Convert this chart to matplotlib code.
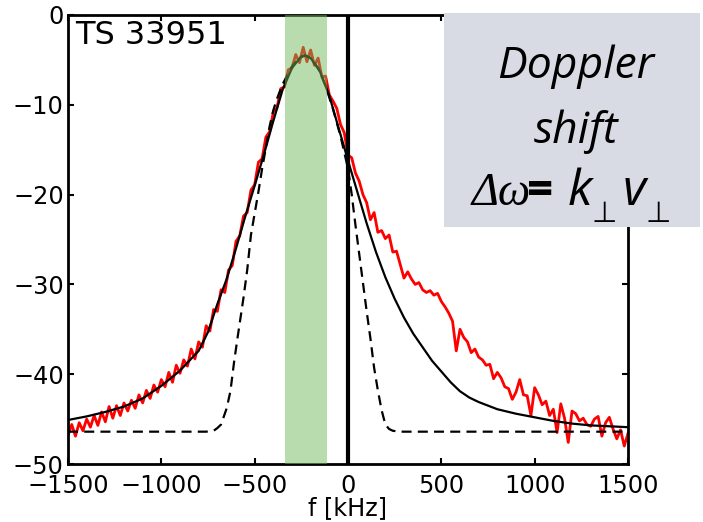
import matplotlib
matplotlib.use("Agg")
import matplotlib.pyplot as plt
from matplotlib.patches import Rectangle
from matplotlib.text import Annotation

freq_red = [-1500, -1480, -1460, -1440, -1420, -1400, -1380, -1360, -1340, -1320,
            -1300, -1280, -1260, -1240, -1220, -1200, -1180, -1160, -1140, -1120,
            -1100, -1080, -1060, -1040, -1020, -1000, -980, -960, -940, -920,
            -900, -880, -860, -840, -820, -800, -780, -760, -740, -720,
            -700, -680, -660, -640, -620, -600, -580, -560, -540, -520,
            -500, -480, -460, -440, -420, -400, -380, -360, -340, -320,
            -300, -280, -260, -240, -220, -200, -180, -160, -140, -120,
            -100, -80, -60, -40, -20, 0, 20, 40, 60, 80,
            100, 120, 140, 160, 180, 200, 220, 240, 260, 280,
            300, 320, 340, 360, 380, 400, 420, 440, 460, 480,
            500, 520, 540, 560, 580, 600, 620, 640, 660, 680,
            700, 720, 740, 760, 780, 800, 820, 840, 860, 880,
            900, 920, 940, 960, 980, 1000, 1020, 1040, 1060, 1080,
            1100, 1120, 1140, 1160, 1180, 1200, 1220, 1240, 1260, 1280,
            1300, 1320, 1340, 1360, 1380, 1400, 1420, 1440, 1460, 1480,
            1500]
spec_red = [-46.8, -45.6, -46.9, -45.4, -46.3, -45.0, -45.9, -44.6, -45.7, -44.2,
            -45.3, -43.6, -44.9, -43.5, -44.6, -43.2, -44.1, -42.9, -43.8, -42.3,
            -43.2, -41.8, -42.7, -41.2, -42.0, -40.6, -41.4, -39.8, -40.9, -39.0,
            -39.9, -38.4, -39.1, -37.2, -38.3, -36.4, -37.0, -34.6, -35.2, -32.8,
            -33.0, -30.6, -30.9, -28.4, -27.9, -25.2, -24.6, -22.4, -22.0, -19.5,
            -18.9, -16.4, -16.0, -13.6, -13.0, -10.8, -10.3, -8.2, -8.0, -6.1,
            -5.9, -4.4, -5.3, -3.6, -5.2, -3.9, -5.6, -4.8, -6.9, -6.8,
            -8.9, -9.6, -10.4, -12.2, -13.1, -15.6, -15.9, -17.6, -18.5, -20.0,
            -20.9, -22.8, -22.0, -24.2, -24.0, -24.9, -24.5, -26.4, -26.3, -27.8,
            -29.3, -28.6, -29.4, -30.0, -29.8, -30.6, -30.9, -30.7, -31.2, -31.0,
            -31.9, -32.5, -33.2, -34.1, -37.4, -35.0, -35.9, -36.4, -37.6, -37.2,
            -38.1, -38.4, -39.0, -38.9, -40.5, -39.8, -40.4, -41.4, -41.6, -42.8,
            -42.0, -40.6, -42.3, -42.4, -44.6, -41.5, -42.3, -43.4, -43.0, -44.6,
            -43.9, -46.5, -43.3, -44.9, -47.6, -44.1, -44.4, -45.2, -44.9, -45.6,
            -45.8, -45.0, -44.7, -46.9, -45.4, -44.8, -46.1, -47.2, -46.2, -48.0,
            -46.6]

# fitted spectrum (solid black)
freq_fit = [-1500, -1400, -1300, -1200, -1100, -1000, -900, -800, -750, -700,
            -650, -600, -550, -500, -450, -400, -350, -300, -250, -230,
            -200, -150, -100, -50, 0, 50, 100, 150, 200, 250,
            300, 350, 400, 450, 500, 550, 600, 650, 700, 750,
            800, 900, 1000, 1100, 1200, 1300, 1400, 1500]
spec_fit = [-45.1, -44.7, -44.2, -43.6, -42.7, -41.3, -39.6, -37.4, -35.3, -32.2,
            -29.4, -26.0, -22.4, -19.0, -15.5, -11.8, -8.3, -5.9, -4.6, -4.5,
            -4.8, -6.3, -9.0, -12.6, -16.2, -19.7, -23.2, -26.4, -29.2, -31.6,
            -33.7, -35.5, -37.0, -38.5, -39.7, -40.9, -41.9, -42.6, -43.1, -43.5,
            -43.9, -44.4, -44.8, -45.2, -45.5, -45.7, -45.8, -45.9]

# gaussian part of the fit (dashed)
freq_gauss = [-1500, -760, -720, -700, -680, -670, -650, -630, -610, -590,
              -560, -540, -520, -500, -480, -460, -440, -420, -400, -380,
              -350, -300, -260, -230, -200, -160, -120, -80, -40, 0,
              20, 40, 60, 80, 100, 120, 140, 160, 180, 200,
              220, 240, 280, 1500]
spec_gauss = [-46.4, -46.4, -46.3, -46.0, -45.6, -45.0, -43.8, -41.9, -38.6, -35.7,
              -31.5, -28.4, -24.5, -22.1, -19.7, -17.1, -14.8, -12.4, -10.6, -9.3,
              -7.7, -5.7, -4.8, -4.5, -4.8, -5.9, -7.9, -10.5, -13.5, -17.1,
              -20.0, -23.4, -26.6, -29.8, -33.0, -36.0, -39.3, -41.8, -44.0, -45.6,
              -46.1, -46.3, -46.4, -46.4]

band = (-340, -110)   # highlighted frequency window
f_zero = 0
shot = "TS 33951"

W, H = 703, 522
fig = plt.figure(figsize=(W / 100, H / 100), dpi=100)
ax = fig.add_axes([68 / W, 1 - 464 / H, 560 / W, 449 / H])

ax.plot(freq_red, spec_red, color="#ff0000", lw=2.0, zorder=2)
ax.plot(freq_gauss, spec_gauss, color="black", lw=1.6, ls=(0, (4.5, 2.8)), zorder=2.1)
ax.plot(freq_fit, spec_fit, color="black", lw=1.6, zorder=2.2)
ax.axvline(f_zero, color="black", lw=3, zorder=2.3)
ax.axvspan(band[0], band[1], color=(0.435, 0.726, 0.354), alpha=0.49, lw=0, zorder=3)

ax.set_xlim(-1500, 1500)
ax.set_ylim(-50, 0)
ax.set_xticks([-1500, -1000, -500, 0, 500, 1000, 1500])
ax.set_yticks([-50, -40, -30, -20, -10, 0])
ax.tick_params(direction="in", top=True, right=True, length=4, width=1.5,
               labelsize=17.3, colors="black")
ax.tick_params(axis="x", pad=7)
ax.tick_params(axis="y", pad=3)
for sp in ax.spines.values():
    sp.set_linewidth(2.0)
ax.set_xlabel("f [kHz]", fontsize=17.3, labelpad=-1)

ax.text(-1460, -0.6, shot, fontsize=23, ha="left", va="top", zorder=4)

# grey box with the Doppler shift note, sits on top of the frame
fig.add_artist(Rectangle((444 / W, 1 - 227 / H), (700 - 444) / W, (227 - 13) / H,
                         transform=fig.transFigure, facecolor="#d9dbe4",
                         edgecolor="none", zorder=10))
box_font = dict(family="Open Sans", style="italic", size=32, zorder=11)
fig.text(576 / W, 1 - 78 / H, "Doppler", ha="center", va="baseline", **box_font)
fig.text(576 / W, 1 - 143 / H, "shift", ha="center", va="baseline", **box_font)

yb = 1 - 205 / H
prev = fig.text(472 / W, yb, "\u0394\u03c9", family="Liberation Serif", style="italic",
                size=33, ha="left", va="baseline", zorder=11)
pieces = [("=", dict(family="Open Sans", weight="bold", size=33), -3, 0),
          ("k", dict(family="Open Sans", style="italic", size=36), 10, 0),
          ("\u22a5", dict(family="DejaVu Sans", size=21), 0, -12),
          ("v", dict(family="Open Sans", style="italic", size=36), 4, 0),
          ("\u22a5", dict(family="DejaVu Sans", size=21), 0, -12)]
for s, kw, dx, dy in pieces:
    a = Annotation(s, xy=(1, yb), xycoords=(prev, "figure fraction"),
                   xytext=(dx, dy), textcoords="offset points",
                   ha="left", va="baseline", zorder=11, **kw)
    fig.add_artist(a)
    prev = a

fig.savefig("out.png", dpi=100)
